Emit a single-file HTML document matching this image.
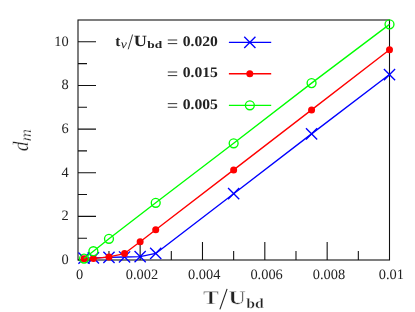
<!DOCTYPE html>
<html><head><meta charset="utf-8"><title>plot</title>
<style>
html,body{margin:0;padding:0;background:#fff;}
body{width:415px;height:312px;overflow:hidden;font-family:"Liberation Serif",serif;}
svg{display:block;position:absolute;left:0;top:0;will-change:transform;}
text{font-family:"Liberation Serif",serif;fill:#222;text-rendering:geometricPrecision;}
.tk{font-size:14.4px;}
.b{font-weight:bold;}
.e{stroke:#fff;stroke-width:.5px;}
.e3{}
.e2{stroke:#fff;stroke-width:.3px;}
</style></head><body>
<svg width="415" height="312" viewBox="0 0 415 312">
<rect width="415" height="312" fill="#fff"/>

<rect x="78.0" y="20.0" width="311.5" height="240.0" fill="none" stroke="#111" stroke-width="1.08"/>
<path d="M108.97 260.0V251.0M140.14 260.0V242.0M171.31 260.0V251.0M202.48 260.0V242.0M233.65 260.0V251.0M264.82 260.0V242.0M295.99 260.0V251.0M327.16 260.0V242.0M358.33 260.0V251.0M78.0 260.00H96.0M78.0 238.18H87.0M78.0 216.36H96.0M78.0 194.55H87.0M78.0 172.73H96.0M78.0 150.91H87.0M78.0 129.09H96.0M78.0 107.27H87.0M78.0 85.45H96.0M78.0 63.64H87.0M78.0 41.82H96.0" stroke="#111" stroke-width="1.08" fill="none"/>
<text class="tk" x="79.60" y="279.4" text-anchor="middle">0</text>
<text class="tk" x="141.94" y="279.4" text-anchor="middle">0.002</text>
<text class="tk" x="204.28" y="279.4" text-anchor="middle">0.004</text>
<text class="tk" x="266.62" y="279.4" text-anchor="middle">0.006</text>
<text class="tk" x="328.96" y="279.4" text-anchor="middle">0.008</text>
<text class="tk" x="391.30" y="279.4" text-anchor="middle">0.01</text>
<text class="tk" x="68.7" y="263.80" text-anchor="end">0</text>
<text class="tk" x="68.7" y="220.16" text-anchor="end">2</text>
<text class="tk" x="68.7" y="176.53" text-anchor="end">4</text>
<text class="tk" x="68.7" y="132.89" text-anchor="end">6</text>
<text class="tk" x="68.7" y="89.25" text-anchor="end">8</text>
<text class="tk" x="68.7" y="45.62" text-anchor="end">10</text>
<path d="M84.03 258.15L93.38 257.82L108.97 257.38L124.55 256.99L140.14 256.62L155.72 253.45L233.65 193.67L311.57 133.89L389.50 74.55" stroke="#0000ff" stroke-width="1.35" fill="none" stroke-linejoin="round"/>
<path d="M78.43 252.55L89.63 263.75M78.43 263.75L89.63 252.55M87.78 252.22L98.98 263.42M87.78 263.42L98.98 252.22M103.37 251.78L114.57 262.98M103.37 262.98L114.57 251.78M118.95 251.39L130.16 262.59M118.95 262.59L130.16 251.39M134.54 251.02L145.74 262.22M134.54 262.22L145.74 251.02M150.12 247.85L161.32 259.05M150.12 259.05L161.32 247.85M228.05 188.07L239.25 199.27M228.05 199.27L239.25 188.07M305.97 128.29L317.18 139.49M305.97 139.49L317.18 128.29M383.90 68.95L395.10 80.15M383.90 80.15L395.10 68.95" stroke="#0000ff" stroke-width="1.35" fill="none"/>
<path d="M84.03 258.80L93.38 258.58L108.97 256.88L124.55 253.56L140.14 241.67L155.72 229.67L233.65 169.89L311.57 109.89L389.50 49.74" stroke="#ff0000" stroke-width="1.35" fill="none" stroke-linejoin="round"/>
<circle cx="84.03" cy="258.80" r="3.5" fill="#ff0000"/>
<circle cx="93.38" cy="258.58" r="3.5" fill="#ff0000"/>
<circle cx="108.97" cy="256.88" r="3.5" fill="#ff0000"/>
<circle cx="124.55" cy="253.56" r="3.5" fill="#ff0000"/>
<circle cx="140.14" cy="241.67" r="3.5" fill="#ff0000"/>
<circle cx="155.72" cy="229.67" r="3.5" fill="#ff0000"/>
<circle cx="233.65" cy="169.89" r="3.5" fill="#ff0000"/>
<circle cx="311.57" cy="109.89" r="3.5" fill="#ff0000"/>
<circle cx="389.50" cy="49.74" r="3.5" fill="#ff0000"/>
<path d="M84.03 258.58L93.38 251.16L108.97 238.84L155.72 202.84L233.65 143.27L311.57 83.10L389.50 24.36" stroke="#00ff00" stroke-width="1.35" fill="none" stroke-linejoin="round"/>
<circle cx="84.03" cy="258.58" r="4.45" fill="none" stroke="#00ff00" stroke-width="1.35"/>
<circle cx="93.38" cy="251.16" r="4.45" fill="none" stroke="#00ff00" stroke-width="1.35"/>
<circle cx="108.97" cy="238.84" r="4.45" fill="none" stroke="#00ff00" stroke-width="1.35"/>
<circle cx="155.72" cy="202.84" r="4.45" fill="none" stroke="#00ff00" stroke-width="1.35"/>
<circle cx="233.65" cy="143.27" r="4.45" fill="none" stroke="#00ff00" stroke-width="1.35"/>
<circle cx="311.57" cy="83.10" r="4.45" fill="none" stroke="#00ff00" stroke-width="1.35"/>
<circle cx="389.50" cy="24.36" r="4.45" fill="none" stroke="#00ff00" stroke-width="1.35"/>
<path d="M228.9 42.35H271.2" stroke="#0000ff" stroke-width="1.35"/>
<text class="b e3" font-size="14.5px" x="182.8" y="45.90" textLength="35.1" lengthAdjust="spacingAndGlyphs">0.020</text>
<path d="M167.8 40.00H177.2M167.8 43.60H177.2" stroke="#2a2a2a" stroke-width="0.95"/>
<path d="M228.9 73.7H271.2" stroke="#ff0000" stroke-width="1.35"/>
<text class="b e3" font-size="14.5px" x="182.8" y="77.05" textLength="35.1" lengthAdjust="spacingAndGlyphs">0.015</text>
<path d="M167.8 72.00H177.2M167.8 75.60H177.2" stroke="#2a2a2a" stroke-width="0.95"/>
<path d="M228.9 105.3H271.2" stroke="#00ff00" stroke-width="1.35"/>
<text class="b e3" font-size="14.5px" x="182.8" y="108.80" textLength="35.1" lengthAdjust="spacingAndGlyphs">0.005</text>
<path d="M167.8 103.65H177.2M167.8 107.25H177.2" stroke="#2a2a2a" stroke-width="0.95"/>
<path d="M244.25 36.75L255.45 47.95M244.25 47.95L255.45 36.75" stroke="#0000ff" stroke-width="1.35"/>
<circle cx="249.8" cy="73.75" r="3.5" fill="#ff0000"/>
<circle cx="249.85" cy="105.3" r="4.45" fill="none" stroke="#00ff00" stroke-width="1.35"/>
<text class="b e3" font-size="14.5px" x="115.3" y="45.9" textLength="5.1" lengthAdjust="spacingAndGlyphs">t</text>
<text font-style="italic" font-size="12px" x="120.7" y="47.5" textLength="6.1" lengthAdjust="spacingAndGlyphs">ν</text>
<path d="M128.2 49.3L132.6 34.5" stroke="#2a2a2a" stroke-width="0.95"/>
<text class="b e3" font-size="15.5px" x="133.7" y="45.9" textLength="13.2" lengthAdjust="spacingAndGlyphs">U</text>
<text class="b" font-size="10px" x="147.2" y="47.7" textLength="14.9" lengthAdjust="spacingAndGlyphs">bd</text>
<text class="b e" font-size="19.5px" x="203.1" y="303.6" textLength="15.8" lengthAdjust="spacingAndGlyphs">T</text>
<path d="M219.9 309.4L227.1 288.9" stroke="#222" stroke-width="1.1"/>
<text class="b e" font-size="19.5px" x="228.6" y="303.7" textLength="17.3" lengthAdjust="spacingAndGlyphs">U</text>
<text class="b e2" font-size="14px" x="246.3" y="308" textLength="17.6" lengthAdjust="spacingAndGlyphs">bd</text>
<g transform="translate(28.2,151.2) rotate(-90)"><text class="e2" font-style="italic" font-size="22px" x="0" y="0" textLength="9.8" lengthAdjust="spacingAndGlyphs">d</text><text class="e2" font-style="italic" font-size="16px" x="10" y="2.4" textLength="12.2" lengthAdjust="spacingAndGlyphs">m</text></g>
</svg></body></html>
